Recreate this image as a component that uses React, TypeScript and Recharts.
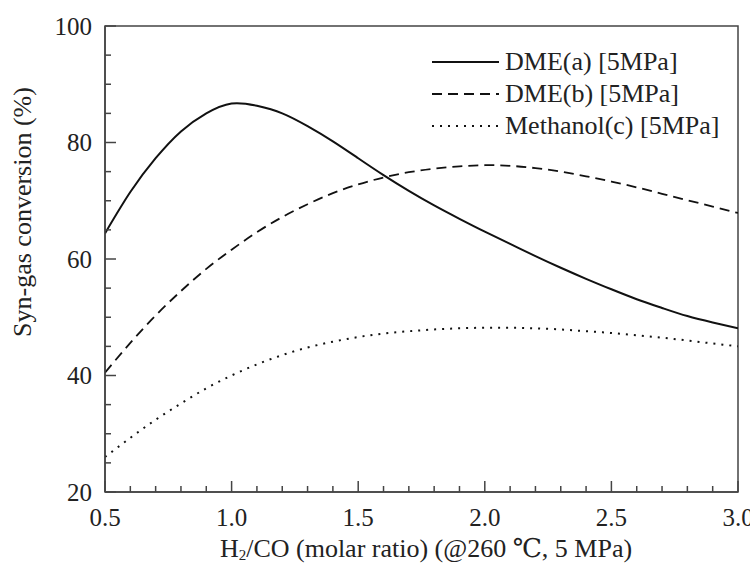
import React from 'react';
import { LineChart, Line, XAxis, YAxis, Legend, ReferenceArea } from 'recharts';

const ratios = [0.5, 0.6, 0.7, 0.8, 0.9, 1.0, 1.1, 1.2, 1.3, 1.4, 1.5, 1.6, 1.7, 1.8, 1.9, 2.0, 2.1, 2.2, 2.3, 2.4, 2.5, 2.6, 2.7, 2.8, 2.9, 3.0];
const dmeA = [64.4, 71.5, 77.3, 81.9, 85.0, 86.7, 86.3, 85.0, 82.8, 80.2, 77.3, 74.4, 71.7, 69.2, 66.9, 64.7, 62.6, 60.5, 58.5, 56.6, 54.8, 53.1, 51.6, 50.2, 49.1, 48.1];
const dmeB = [40.5, 45.6, 50.3, 54.5, 58.3, 61.6, 64.6, 67.2, 69.4, 71.3, 72.8, 74.0, 74.9, 75.5, 75.9, 76.1, 76.0, 75.6, 75.0, 74.2, 73.3, 72.3, 71.2, 70.1, 69.0, 67.9];
const methanol = [26.0, 29.3, 32.4, 35.2, 37.8, 40.0, 41.9, 43.5, 44.8, 45.8, 46.6, 47.2, 47.6, 47.9, 48.1, 48.2, 48.2, 48.1, 47.9, 47.6, 47.3, 46.9, 46.5, 46.0, 45.5, 45.0];

const xTicks = [0.5, 0.6, 0.7, 0.8, 0.9, 1.0, 1.1, 1.2, 1.3, 1.4, 1.5, 1.6, 1.7, 1.8, 1.9, 2.0, 2.1, 2.2, 2.3, 2.4, 2.5, 2.6, 2.7, 2.8, 2.9, 3.0];
const yTicks = [20, 25, 30, 35, 40, 45, 50, 55, 60, 65, 70, 75, 80, 85, 90, 95, 100];

const seriesNames = ['DME(a) [5MPa]', 'DME(b) [5MPa]', 'Methanol(c) [5MPa]'];

const data = ratios.map((x, i) => ({ x, a: dmeA[i], b: dmeB[i], c: methanol[i] }));

const FONT = "'Liberation Serif', 'DejaVu Serif', serif";
const INK = '#222';
const AXIS = '#444';

const series = [
  { key: 'a', name: seriesNames[0], dash: undefined, width: 2 },
  { key: 'b', name: seriesNames[1], dash: '10 6', width: 1.8 },
  { key: 'c', name: seriesNames[2], dash: '2 6', width: 2 },
];

const txt = { fontFamily: FONT };

const XTick = (props: any) => {
  const { x, y, payload } = props;
  const v = payload.value;
  const major = Math.abs(v * 2 - Math.round(v * 2)) < 1e-6;
  return (
    <g>
      <line x1={x} x2={x} y1={y} y2={y - (major ? 11 : 6)} stroke={AXIS} strokeWidth={1.5} />
      {major && (
        <text x={x} y={y + 34} textAnchor="middle" style={txt} fontSize={25} fill={INK}>
          {v.toFixed(1)}
        </text>
      )}
    </g>
  );
};

const YTick = (props: any) => {
  const { x, y, payload } = props;
  const v = payload.value;
  const major = v % 20 === 0;
  return (
    <g>
      <line x1={x} x2={x + (major ? 11 : 6)} y1={y} y2={y} stroke={AXIS} strokeWidth={1.5} />
      {major && (
        <text x={x - 13} y={y + 8.5} textAnchor="end" style={txt} fontSize={25} fill={INK}>
          {v}
        </text>
      )}
    </g>
  );
};

// rotated y title, sits a bit above the plot middle like the original
const YLabel = () => (
  <text x={31} y={212} transform="rotate(-90 31 212)" textAnchor="middle" style={txt} fontSize={26} fill={INK}>
    Syn-gas conversion (%)
  </text>
);

const XLabel = () => (
  <text x={426} y={557} textAnchor="middle" style={txt} fontSize={26} fill={INK}>
    H<tspan fontSize={15} dy={3}>2</tspan>
    <tspan dy={-3}>/CO (molar ratio) (@260 ℃, 5 MPa)</tspan>
  </text>
);

const LegendBox = () => (
  <div style={{ fontFamily: FONT, fontSize: 26, color: INK }}>
    {series.map((s) => (
      <div key={s.key} style={{ display: 'flex', alignItems: 'center', height: 32 }}>
        <svg width={73} height={10}>
          <line x1={0} x2={67} y1={5} y2={5} stroke="#111" strokeWidth={s.width} strokeDasharray={s.dash} />
        </svg>
        <span style={{ whiteSpace: 'nowrap' }}>{s.name}</span>
      </div>
    ))}
  </div>
);

export default function App() {
  return (
    <div style={{ position: 'absolute', left: 0, top: 0, background: '#fff', fontFamily: FONT }}>
      <LineChart width={750} height={565} data={data} margin={{ top: 26, right: 12, left: 0, bottom: 0 }}>
        <XAxis
          dataKey="x"
          type="number"
          domain={[0.5, 3]}
          ticks={xTicks}
          interval={0}
          tickSize={0}
          tickMargin={0}
          tickLine={false}
          tick={<XTick />}
          stroke={AXIS}
          strokeWidth={1.5}
          height={73}
          label={<XLabel />}
          allowDataOverflow
        />
        <YAxis
          type="number"
          domain={[20, 100]}
          ticks={yTicks}
          interval={0}
          tickSize={0}
          tickMargin={0}
          tickLine={false}
          tick={<YTick />}
          stroke={AXIS}
          strokeWidth={1.5}
          width={105}
          label={<YLabel />}
          allowDataOverflow
        />
        <ReferenceArea x1={0.5} x2={3} y1={20} y2={100} fill="none" fillOpacity={0} stroke={AXIS} strokeWidth={1.5} />
        {series.map((s) => (
          <Line
            key={s.key}
            type="natural"
            dataKey={s.key}
            name={s.name}
            stroke="#111"
            strokeWidth={s.width}
            strokeDasharray={s.dash}
            dot={false}
            activeDot={false}
            isAnimationActive={false}
          />
        ))}
        <Legend
          layout="vertical"
          verticalAlign="middle"
          align="center"
          content={<LegendBox />}
          wrapperStyle={{ top: 46, left: 432, width: 'auto' }}
        />
      </LineChart>
    </div>
  );
}
